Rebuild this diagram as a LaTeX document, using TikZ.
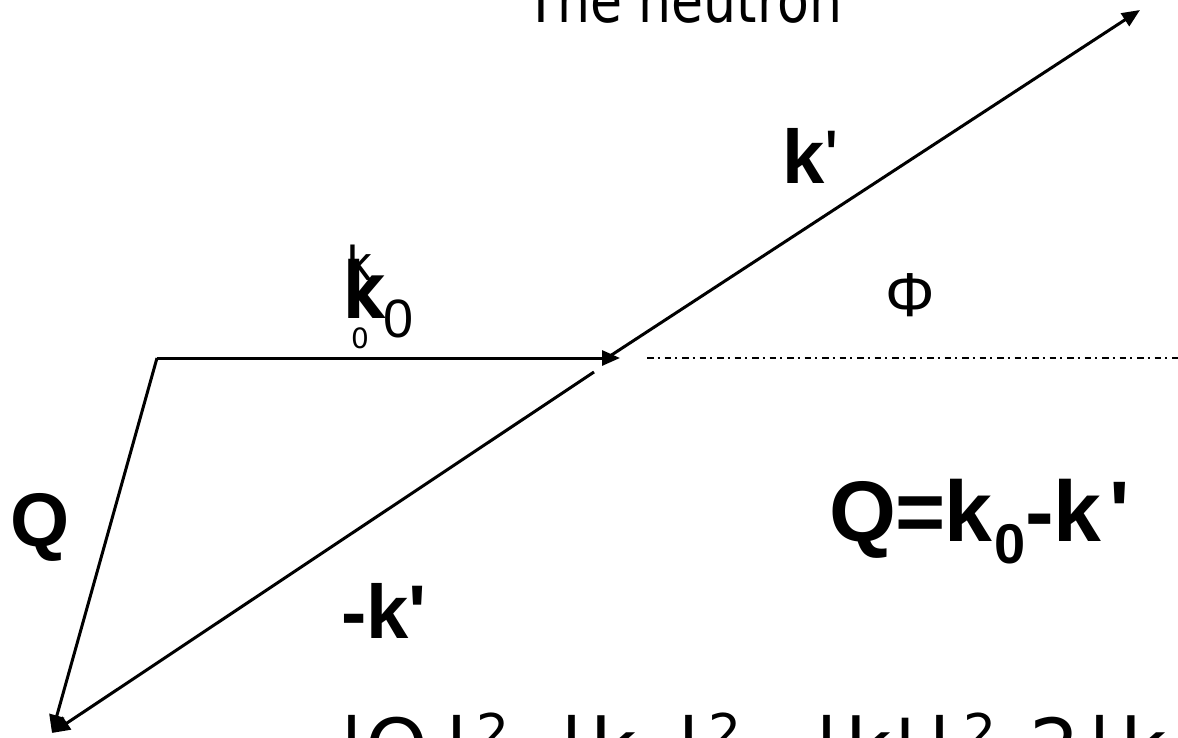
\documentclass[tikz,border=0pt]{standalone}
\usepackage{fontspec}
\setmainfont{Liberation Sans}[Ligatures=TeXOff]
\newfontfamily\comic{DejaVu Sans}[Ligatures=TeXOff]
\usetikzlibrary{arrows.meta}
\newcommand\fsz[1]{\fontsize{#1}{#1}\selectfont}
\newcommand\tk[2]{\makebox[#1pt][l]{#2}}
\newcommand\supr[1]{\raisebox{25pt}{\fsz{52}#1}}
\newcommand\subr[1]{\raisebox{-22pt}{\fsz{52}#1}}
\newcommand\low[2]{\raisebox{-#1pt}{#2}}
\begin{document}
\begin{tikzpicture}[x=1pt,y=-1pt,
  vec/.style={line width=3pt,-{Triangle[length=18pt,width=15pt]}},
  axisline/.style={line width=1.5pt,dash pattern=on 6.5pt off 4pt on 2pt off 5pt},
  lbl/.style={inner sep=0pt,anchor=base west}]
\useasboundingbox (0,0) rectangle (1178,737);
\clip (0,0) rectangle (1178,737);
% points
\coordinate (O) at (157,358);
\coordinate (A) at (620,358);
\coordinate (C) at (610,356);
\coordinate (B) at (1140,10);
\coordinate (D) at (594,372);
\coordinate (E) at (52,733);
\coordinate (H1) at (647,358);
\coordinate (H2) at (1180,358);
% vectors
\draw[vec] (O) -- (A);
\draw[vec] (C) -- (B);
\draw[vec] (D) -- (E);
\draw[vec] (O) -- (E);
\draw[axisline] (H1) -- (H2);
% labels
\node[lbl,font=\bfseries\fsz{76}] (kp) at (782,183) {k\mdseries'};
\node[lbl,font=\bfseries\fsz{76}] (mk) at (341,638) {-k'};
\node[lbl,font=\bfseries\fsz{76}] (q) at (10,546) {Q};
\node[lbl,font=\bfseries\fsz{86}] (eq) at (829,541) {\tk{66}{Q}\tk{49}{=}k\hspace{2pt}\raisebox{-22pt}{\fsz{56}0}-k\hspace{8pt}'};
\node[inner sep=0pt,anchor=base,font=\fsz{62}] (phi) at (910,316) {Φ};
% overlapping k0 labels
\node[lbl,font=\fsz{49}] (ka) at (347,280) {k};
\node[lbl,font=\comic\bfseries\fsz{78}] (kb) at (343,318) {\scalebox{0.8}[1]{k}};
\node[lbl,font=\comic\fsz{28}] (kc) at (351,348) {0};
\node[lbl,font=\fsz{54}] (kd) at (383,337) {0};
% comic texts (clipped)
\node[lbl,font=\comic\fsz{62}] (title) at (525,22) {\scalebox{0.84}[1]{The neutron}};
\node[lbl,font=\comic\fsz{80}] (law) at (338,776) {\tk{27}{|}\tk{78.5}{Q}\tk{32.5}{|}\tk{82.5}{\supr{2}\hspace{6pt}\low{12}{=}}\tk{31.5}{|}\tk{85.5}{k\subr{0}}\tk{32.5}{|}\tk{105.5}{\supr{2}\hspace{8pt}\low{24}{+}}\tk{31.5}{|}\tk{49}{k}\tk{32.5}{'}\tk{36.5}{|}\tk{66}{\supr{2}\hspace{4pt}\low{10}{-}}\tk{57.5}{2}\tk{33.5}{|}k};
\end{tikzpicture}
\end{document}
